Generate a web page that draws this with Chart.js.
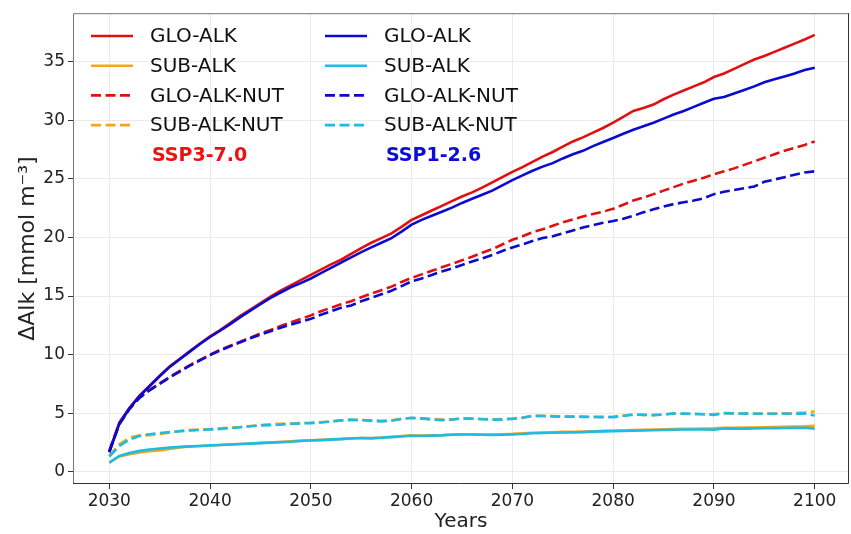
<!DOCTYPE html>
<html>
<head>
<meta charset="utf-8">
<script src="https://cdn.jsdelivr.net/npm/chart.js@4.4.1/dist/chart.umd.min.js"></script>
<style>
  html, body { margin: 0; padding: 0; background: #ffffff; }
  #wrap { position: relative; width: 851px; height: 534px; }
</style>
</head>
<body>
<div id="wrap"><canvas id="chart" width="851" height="534"></canvas></div>
<script>
// Alkalinity anomaly (mmol m^-3) under two emission scenarios, 2030-2100
const years = [
  2030, 2031, 2032, 2033, 2034, 2035, 2036, 2037, 2038, 2039,
  2040, 2041, 2042, 2043, 2044, 2045, 2046, 2047, 2048, 2049,
  2050, 2051, 2052, 2053, 2054, 2055, 2056, 2057, 2058, 2059,
  2060, 2061, 2062, 2063, 2064, 2065, 2066, 2067, 2068, 2069,
  2070, 2071, 2072, 2073, 2074, 2075, 2076, 2077, 2078, 2079,
  2080, 2081, 2082, 2083, 2084, 2085, 2086, 2087, 2088, 2089,
  2090, 2091, 2092, 2093, 2094, 2095, 2096, 2097, 2098, 2099,
  2100
];

// SSP3-7.0
const ssp3GloAlk = [
  1.75, 4.2, 5.45, 6.5, 7.35, 8.2, 9.0, 9.65, 10.3, 10.95,
  11.55, 12.1, 12.7, 13.3, 13.85, 14.4, 14.95, 15.45, 15.9, 16.35,
  16.8, 17.25, 17.7, 18.1, 18.6, 19.1, 19.55, 19.95, 20.35, 20.9,
  21.5, 21.9, 22.3, 22.7, 23.1, 23.5, 23.85, 24.25, 24.7, 25.15,
  25.6, 26.0, 26.45, 26.9, 27.3, 27.75, 28.2, 28.55, 28.95, 29.35,
  29.8, 30.3, 30.8, 31.05, 31.35, 31.8, 32.2, 32.55, 32.9, 33.25,
  33.7, 34.0, 34.4, 34.8, 35.2, 35.5, 35.85, 36.2, 36.55, 36.9,
  37.3
];
const ssp3SubAlk = [
  0.8, 1.3, 1.5, 1.65, 1.75, 1.82, 1.95, 2.08, 2.15, 2.2,
  2.24, 2.28, 2.33, 2.37, 2.41, 2.46, 2.5, 2.55, 2.6, 2.65,
  2.68, 2.72, 2.76, 2.8, 2.85, 2.88, 2.88, 2.92, 2.98, 3.05,
  3.1, 3.08, 3.1, 3.13, 3.18, 3.2, 3.2, 3.18, 3.17, 3.2,
  3.23, 3.28, 3.33, 3.35, 3.37, 3.4, 3.41, 3.43, 3.46, 3.49,
  3.52, 3.54, 3.56, 3.58, 3.6, 3.62, 3.64, 3.66, 3.67, 3.68,
  3.7, 3.75, 3.75, 3.76, 3.78, 3.8, 3.82, 3.84, 3.86, 3.88,
  3.93
];
const ssp3GloAlkNut = [
  1.8, 4.15, 5.4, 6.35, 7.0, 7.55, 8.1, 8.6, 9.1, 9.55,
  10.0, 10.4, 10.75, 11.1, 11.45, 11.8, 12.1, 12.45, 12.75, 13.05,
  13.35, 13.7, 14.0, 14.3, 14.55, 14.9, 15.2, 15.5, 15.8, 16.2,
  16.55, 16.85, 17.15, 17.45, 17.75, 18.05, 18.35, 18.7, 19.0, 19.4,
  19.8, 20.1, 20.45, 20.7, 21.0, 21.3, 21.55, 21.8, 22.0, 22.2,
  22.45, 22.8, 23.15, 23.4, 23.7, 24.0, 24.3, 24.6, 24.85, 25.1,
  25.4, 25.65, 25.9, 26.2, 26.5, 26.8, 27.1, 27.4, 27.65, 27.9,
  28.2
];
const ssp3SubAlkNut = [
  1.35, 2.35, 2.9, 3.1, 3.12, 3.2, 3.35, 3.48, 3.55, 3.6,
  3.65, 3.7, 3.76, 3.82, 3.9, 3.98, 4.05, 4.1, 4.12, 4.15,
  4.18, 4.22, 4.3, 4.38, 4.42, 4.42, 4.38, 4.35, 4.4, 4.52,
  4.58, 4.55, 4.5, 4.45, 4.48, 4.55, 4.55, 4.5, 4.48, 4.5,
  4.55, 4.62, 4.75, 4.78, 4.75, 4.72, 4.7, 4.7, 4.68, 4.68,
  4.7, 4.8, 4.9, 4.85, 4.85, 4.9, 4.95, 4.95, 4.92, 4.9,
  4.92, 4.98, 4.98, 4.97, 4.96, 4.96, 4.97, 4.98, 5.0, 5.05,
  5.14
];

// SSP1-2.6
const ssp1GloAlk = [
  1.65, 4.1, 5.4, 6.45, 7.3, 8.15, 8.95, 9.6, 10.25, 10.9,
  11.5, 12.05, 12.6, 13.2, 13.75, 14.3, 14.85, 15.3, 15.75, 16.1,
  16.5, 16.95, 17.4, 17.85, 18.3, 18.75, 19.15, 19.55, 19.95, 20.5,
  21.1, 21.5, 21.85, 22.2, 22.55, 22.95, 23.3, 23.65, 24.0, 24.45,
  24.9, 25.3, 25.7, 26.05, 26.35, 26.75, 27.1, 27.4, 27.8, 28.15,
  28.5, 28.85, 29.2, 29.5, 29.8, 30.15, 30.5, 30.8, 31.15, 31.5,
  31.85, 32.0, 32.3, 32.6, 32.9, 33.25, 33.5, 33.75, 34.0, 34.3,
  34.5
];
const ssp1SubAlk = [
  0.76, 1.35, 1.6, 1.78, 1.9, 1.98, 2.06, 2.12, 2.16, 2.2,
  2.25, 2.28, 2.32, 2.36, 2.4, 2.44, 2.48, 2.52, 2.56, 2.62,
  2.67, 2.7, 2.74, 2.78, 2.84, 2.88, 2.85, 2.9, 2.95, 3.0,
  3.07, 3.05, 3.08, 3.1, 3.15, 3.18, 3.18, 3.15, 3.13, 3.15,
  3.18, 3.22, 3.28, 3.3, 3.32, 3.35, 3.36, 3.38, 3.42, 3.44,
  3.46, 3.48, 3.5, 3.52, 3.54, 3.56, 3.58, 3.6, 3.6, 3.6,
  3.58, 3.7, 3.68, 3.68, 3.7, 3.71, 3.72, 3.73, 3.74, 3.75,
  3.68
];
const ssp1GloAlkNut = [
  1.7, 4.05, 5.35, 6.3, 6.95, 7.5, 8.05, 8.55, 9.05, 9.5,
  9.95, 10.35, 10.7, 11.05, 11.4, 11.7, 12.0, 12.3, 12.55, 12.8,
  13.05, 13.4, 13.7, 14.0, 14.2, 14.55, 14.85, 15.15, 15.45, 15.85,
  16.25, 16.5, 16.8, 17.1, 17.35, 17.65, 17.95, 18.2, 18.5, 18.85,
  19.15, 19.4, 19.7, 19.95, 20.1, 20.35, 20.6, 20.85, 21.05, 21.25,
  21.4, 21.6, 21.85, 22.15, 22.4, 22.65, 22.85, 23.0, 23.15, 23.35,
  23.7, 23.9, 24.05, 24.2, 24.35, 24.75, 24.95, 25.15, 25.35, 25.55,
  25.65
];
const ssp1SubAlkNut = [
  1.3, 2.2, 2.75, 3.05, 3.2, 3.3, 3.38, 3.45, 3.52, 3.56,
  3.6, 3.65, 3.72, 3.8, 3.88, 3.95, 3.98, 4.02, 4.08, 4.12,
  4.15, 4.2, 4.28, 4.38, 4.45, 4.4, 4.35, 4.3, 4.35, 4.5,
  4.6, 4.55, 4.45, 4.4, 4.45, 4.55, 4.52, 4.48, 4.45, 4.45,
  4.5, 4.6, 4.78, 4.75, 4.72, 4.7, 4.7, 4.68, 4.67, 4.66,
  4.65, 4.75, 4.88, 4.85, 4.82, 4.88, 4.98, 4.96, 4.95, 4.9,
  4.85, 5.0, 4.98, 4.96, 4.95, 4.95, 4.95, 4.95, 4.95, 4.98,
  4.8
];

const xTicks = [2030, 2040, 2050, 2060, 2070, 2080, 2090, 2100];
const yTicks = [0, 5, 10, 15, 20, 25, 30, 35];
const scenarioNames = ['SSP3-7.0', 'SSP1-2.6'];

const FONT = "'DejaVu Sans', sans-serif";
const DASH = [10, 4.5];

const pts = vals => vals.map((v, i) => ({ x: years[i], y: v }));
const series = (label, vals, color, dashed, scenario, order) => ({
  label, data: pts(vals), borderColor: color, backgroundColor: color,
  borderWidth: 2.6, borderDash: dashed ? DASH : [], pointRadius: 0,
  tension: 0, fill: false, scenario, order
});

const datasets = [
  series('GLO-ALK',     ssp3GloAlk,    '#e01010', false, 0, 8),
  series('SUB-ALK',     ssp3SubAlk,    '#f5a614', false, 0, 6),
  series('GLO-ALK-NUT', ssp3GloAlkNut, '#e01010', true,  0, 7),
  series('SUB-ALK-NUT', ssp3SubAlkNut, '#f5a614', true,  0, 5),
  series('GLO-ALK',     ssp1GloAlk,    '#0a0ad0', false, 1, 3),
  series('SUB-ALK',     ssp1SubAlk,    '#1cbce6', false, 1, 1),
  series('GLO-ALK-NUT', ssp1GloAlkNut, '#0a0ad0', true,  1, 2),
  series('SUB-ALK-NUT', ssp1SubAlkNut, '#1cbce6', true,  1, 0)
];
const scenarioColors = ['#ee1111', '#0b0bdd'];

// Two-column legend with a bold scenario tag under each column, plus the axes frame
const legendAndFrame = {
  id: 'legendAndFrame',
  afterDatasetsDraw(chart) {
    const ctx = chart.ctx;
    const a = chart.chartArea;
    ctx.save();
    // frame
    ctx.lineWidth = 1;
    ctx.strokeStyle = '#777';
    ctx.beginPath();
    ctx.moveTo(a.left + 0.5, a.bottom); ctx.lineTo(a.left + 0.5, a.top + 0.5);
    ctx.lineTo(a.right - 0.5, a.top + 0.5);
    ctx.stroke();
    ctx.strokeStyle = '#333';
    ctx.beginPath();
    ctx.moveTo(a.right - 0.5, a.top); ctx.lineTo(a.right - 0.5, a.bottom - 0.5);
    ctx.lineTo(a.left, a.bottom - 0.5);
    ctx.stroke();

    // legend
    const colX = [91, 325];
    const rowY0 = 36, rowStep = 29.7;
    ctx.textBaseline = 'middle';
    ctx.textAlign = 'left';
    ctx.font = '20px ' + FONT;
    [0, 1].forEach(s => {
      const list = chart.data.datasets.filter(d => d.scenario === s);
      list.forEach((d, r) => {
        const y = rowY0 + r * rowStep;
        ctx.strokeStyle = d.borderColor;
        ctx.lineWidth = 2.6;
        ctx.setLineDash(d.borderDash);
        ctx.beginPath();
        ctx.moveTo(colX[s], y); ctx.lineTo(colX[s] + 42, y);
        ctx.stroke();
        ctx.setLineDash([]);
        ctx.fillStyle = '#111';
        ctx.fillText(d.label, colX[s] + 59, y + 1);
      });
      ctx.font = 'bold 19px ' + FONT;
      ctx.fillStyle = scenarioColors[s];
      ctx.fillText(scenarioNames[s], colX[s] + 61, rowY0 + 4 * rowStep + 1);
      ctx.font = '20px ' + FONT;
    });
    ctx.restore();
  }
};

new Chart(document.getElementById('chart'), {
  type: 'line',
  data: { datasets },
  options: {
    responsive: false,
    animation: false,
    devicePixelRatio: 1,
    layout: { padding: { left: 0, right: 2, top: 10, bottom: 0 } },
    plugins: { legend: { display: false }, tooltip: { enabled: false } },
    scales: {
      x: {
        type: 'linear',
        min: 2026.4, max: 2103.4,
        afterBuildTicks: axis => { axis.ticks = xTicks.map(v => ({ value: v })); },
        afterFit: axis => { axis.height = 50; },
        ticks: {
          callback: v => String(v),
          font: { family: FONT, size: 17 }, color: '#222',
          padding: 2, maxRotation: 0, autoSkip: false
        },
        grid: { color: '#ebebeb', lineWidth: 1, tickLength: 5, tickColor: '#333' },
        border: { display: false },
        title: {
          display: true, text: 'Years', color: '#222',
          font: { family: FONT, size: 20 }, padding: { top: 0, bottom: 0 }
        }
      },
      y: {
        type: 'linear',
        min: -1.05, max: 39.15,
        afterBuildTicks: axis => { axis.ticks = yTicks.map(v => ({ value: v })); },
        afterFit: axis => { axis.width = 73; },
        ticks: {
          callback: v => String(v),
          font: { family: FONT, size: 17 }, color: '#222',
          padding: 3, autoSkip: false
        },
        grid: { color: '#ebebeb', lineWidth: 1, tickLength: 5, tickColor: '#333' },
        border: { display: false },
        title: {
          display: true, text: 'ΔAlk [mmol m⁻³]', color: '#222',
          font: { family: FONT, size: 22 }, padding: { top: 15, bottom: 0 }
        }
      }
    }
  },
  plugins: [legendAndFrame]
});
</script>
</body>
</html>
